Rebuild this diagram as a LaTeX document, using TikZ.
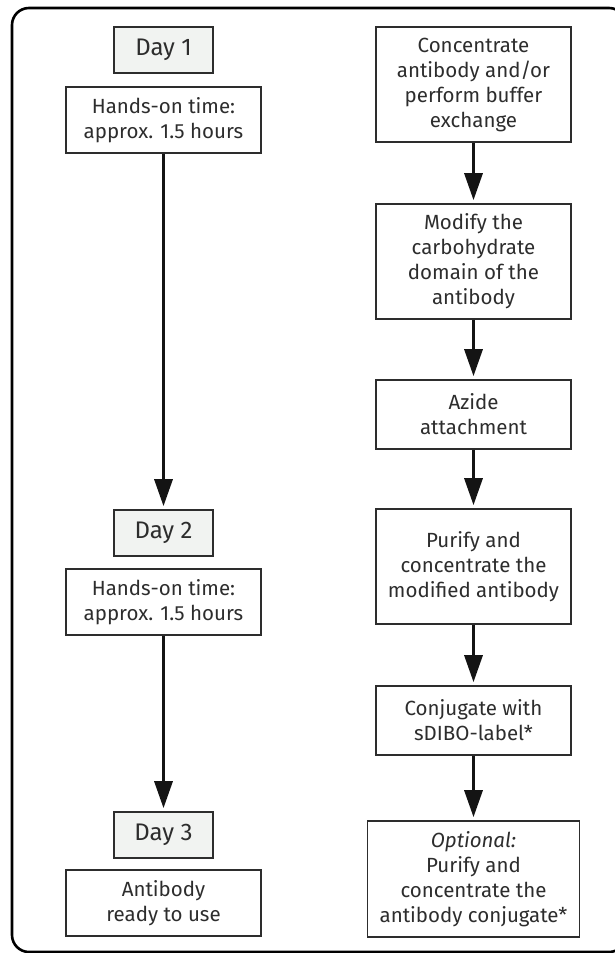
\documentclass[tikz,border=0pt]{standalone}
\usepackage{fontspec}
\setmainfont{Fira Sans}
\usetikzlibrary{arrows.meta}

\definecolor{boxline}{RGB}{45,45,45}
\definecolor{txtgray}{RGB}{45,45,45}
\definecolor{dayfill}{RGB}{241,243,241}

\tikzset{
  stepbox/.style={draw=boxline, line width=1.6, fill=white, align=center, text=txtgray,
    inner sep=0, minimum width=195, font=\fontsize{20.5}{25}\selectfont},
  daybox/.style={stepbox, fill=dayfill, minimum width=99, minimum height=46,
    font=\fontsize{24}{28}\selectfont},
  flow/.style={line width=3.2, draw=black!92, -{Triangle[length=27,width=18]}, shorten >=3},
}

\begin{document}
\begin{tikzpicture}[x=1pt,y=1pt,yscale=-1]
    \useasboundingbox (0,0) rectangle (614,953);

    %Shape: Rounded frame
    \draw [line width=2.6, rounded corners=17] (12,8) rectangle (626,952);

    % Left column: days
    \node [daybox] (day1) at (163.5,50) {Day 1};
    \node [stepbox, minimum height=66] (hours1) at (163.5,120) {Hands-on time:\\approx. 1.5 hours};
    \node [daybox] (day2) at (163.5,533) {Day 2};
    \node [stepbox, minimum height=66] (hours2) at (163.5,602) {Hands-on time:\\approx. 1.5 hours};
    \node [daybox] (day3) at (163.5,835) {Day 3};
    \node [stepbox, minimum height=66] (ready) at (163.5,903) {Antibody\\ready to use};

    % Right column: steps
    \node [stepbox, minimum height=115] (conc) at (473.5,84.5) {Concentrate\\antibody and/or\\perform buffer\\exchange};
    \node [stepbox, minimum height=115] (modify) at (473.5,261.5) {Modify the\\carbohydrate\\domain of the\\antibody};
    \node [stepbox, minimum height=69] (azide) at (473.5,414.5) {Azide\\attachment};
    \node [stepbox, minimum height=115] (purify) at (473.5,566.5) {Purify and\\concentrate the\\modified antibody};
    \node [stepbox, minimum height=69] (conj) at (473.5,720.5) {Conjugate with\\sDIBO-label*};
    \node [stepbox, minimum height=116, minimum width=212] (optional) at (473.5,879) {\textit{Optional:}\\Purify and\\concentrate the\\antibody conjugate*};

    % Arrows
    \draw [flow] (hours1) -- (day2);
    \draw [flow] (hours2) -- (day3);
    \draw [flow] (conc) -- (modify);
    \draw [flow] (modify) -- (azide);
    \draw [flow] (azide) -- (purify);
    \draw [flow] (purify) -- (conj);
    \draw [flow] (conj) -- (optional);

\end{tikzpicture}
\end{document}
